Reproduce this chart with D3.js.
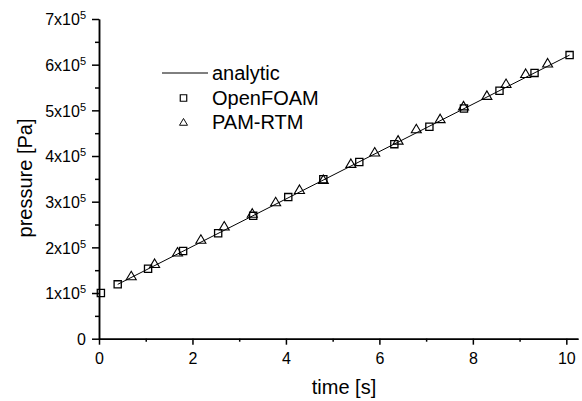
<html lang="en">
  <head>
    <meta charset="UTF-8" />
    <title>pressure vs time</title>
    <script src="https://d3js.org/d3.v7.min.js"></script>
  </head>
  <style>
    body {
      margin: 0;
      background: #fff;
    }
    svg {
      font-family: "Liberation Sans", Arial, sans-serif;
    }
    .axis path,
    .axis line {
      stroke: #000;
      stroke-width: 1.5px;
    }
  </style>
  <body>
    <svg width="582" height="401"></svg>
    <script>
      // values (pressure in Pa)
      var analyticT = [0.4, 10.07];
      var analyticP = [1.19e5, 6.21e5];

      var foamT = [0.04, 0.4, 1.05, 1.8, 2.55, 3.3, 4.05, 4.8, 5.57, 6.32, 7.07, 7.81, 8.57, 9.32, 10.07];
      var foamP = [1.0e5, 1.19e5, 1.53e5, 1.92e5, 2.31e5, 2.69e5, 3.1e5, 3.49e5, 3.87e5, 4.26e5, 4.64e5, 5.04e5, 5.43e5, 5.82e5, 6.21e5];

      var pamT = [0.69, 1.19, 1.68, 2.18, 2.68, 3.28, 3.78, 4.29, 4.8, 5.39, 5.9, 6.4, 6.79, 7.3, 7.8, 8.3, 8.71, 9.13, 9.6];
      var pamP = [1.38e5, 1.65e5, 1.9e5, 2.18e5, 2.47e5, 2.75e5, 3.0e5, 3.27e5, 3.49e5, 3.84e5, 4.09e5, 4.35e5, 4.6e5, 4.82e5, 5.1e5, 5.33e5, 5.59e5, 5.81e5, 6.04e5];

      var xTicks = [0, 2, 4, 6, 8, 10];
      var xMinor = [1, 3, 5, 7, 9];
      var yTicks = [0, 1e5, 2e5, 3e5, 4e5, 5e5, 6e5, 7e5];
      var yMinor = [0.5e5, 1.5e5, 2.5e5, 3.5e5, 4.5e5, 5.5e5, 6.5e5];

      var legendNames = ["analytic", "OpenFOAM", "PAM-RTM"];

      var svg = d3.select("svg");

      var x = d3.scaleLinear().domain([0, 10.25]).range([99, 578]);
      var y = d3.scaleLinear().domain([0, 7e5]).range([338.7, 19]);

      // minor ticks
      svg.append("g")
        .attr("class", "axis")
        .attr("transform", "translate(0," + y(0) + ")")
        .call(d3.axisBottom(x).tickValues(xMinor).tickSize(3).tickSizeOuter(0).tickFormat(""));
      svg.append("g")
        .attr("class", "axis")
        .attr("transform", "translate(" + x(0) + ",0)")
        .call(d3.axisLeft(y).tickValues(yMinor).tickSize(4).tickSizeOuter(0).tickFormat(""));

      // major ticks
      var xAxis = svg.append("g")
        .attr("class", "axis")
        .attr("transform", "translate(0," + y(0) + ")")
        .call(d3.axisBottom(x).tickValues(xTicks).tickSize(6).tickSizeOuter(0).tickPadding(8));
      xAxis.selectAll("text")
        .style("font-size", "16px")
        .style("font-family", "Liberation Sans, Arial, sans-serif")
        .attr("fill", "#000");

      var yAxis = svg.append("g")
        .attr("class", "axis")
        .attr("transform", "translate(" + x(0) + ",0)")
        .call(d3.axisLeft(y).tickValues(yTicks).tickSize(7).tickSizeOuter(0).tickPadding(6).tickFormat(""));

      yAxis.selectAll(".tick").each(function (d) {
        var t = d3.select(this).select("text")
          .style("font-size", "16px")
          .style("font-family", "Liberation Sans, Arial, sans-serif")
          .attr("fill", "#000")
          .attr("x", -13)
          .attr("dy", "0.36em");
        if (d === 0) {
          t.text("0");
        } else {
          t.append("tspan").text(Math.round(d / 1e5) + "x10");
          t.append("tspan").attr("dy", "-0.55em").style("font-size", "11px").text("5");
        }
      });

      // axis titles
      svg.append("text")
        .attr("x", 344)
        .attr("y", 394)
        .attr("text-anchor", "middle")
        .style("font-size", "20px")
        .text("time [s]");
      svg.append("text")
        .attr("transform", "translate(32," + 178 + ") rotate(-90)")
        .attr("text-anchor", "middle")
        .style("font-size", "20px")
        .text("pressure [Pa]");

      // analytic line
      var line = d3.line()
        .x(function (d) { return x(d[0]); })
        .y(function (d) { return y(d[1]); });
      svg.append("path")
        .datum(d3.zip(analyticT, analyticP))
        .attr("d", line)
        .attr("fill", "none")
        .attr("stroke", "#000")
        .attr("stroke-width", 1);

      var squarePath = "M-3.6,-3.6H3.6V3.6H-3.6Z";
      var triPath = "M0,-4.4L5,4.1L-5,4.1Z";

      svg.append("g").selectAll("path")
        .data(d3.zip(foamT, foamP))
        .enter()
        .append("path")
        .attr("transform", function (d) { return "translate(" + x(d[0]) + "," + y(d[1]) + ")"; })
        .attr("d", squarePath)
        .attr("fill", "none")
        .attr("stroke", "#000")
        .attr("stroke-width", 1.3);

      svg.append("g").selectAll("path")
        .data(d3.zip(pamT, pamP))
        .enter()
        .append("path")
        .attr("transform", function (d) { return "translate(" + x(d[0]) + "," + y(d[1]) + ")"; })
        .attr("d", triPath)
        .attr("fill", "none")
        .attr("stroke", "#000")
        .attr("stroke-width", 1.1);

      // legend
      var legend = svg.append("g");
      var rows = [73, 98, 122];
      legend.append("line")
        .attr("x1", 162).attr("x2", 208)
        .attr("y1", rows[0]).attr("y2", rows[0])
        .attr("stroke", "#000").attr("stroke-width", 1);
      legend.append("path")
        .attr("transform", "translate(183.5," + rows[1] + ") scale(0.9)")
        .attr("d", squarePath)
        .attr("fill", "none").attr("stroke", "#000").attr("stroke-width", 1.3);
      legend.append("path")
        .attr("transform", "translate(183.5," + rows[2] + ") scale(0.8)")
        .attr("d", triPath)
        .attr("fill", "none").attr("stroke", "#000").attr("stroke-width", 1.2);
      legend.selectAll("text")
        .data(legendNames)
        .enter()
        .append("text")
        .attr("x", 212)
        .attr("y", function (d, i) { return rows[i]; })
        .attr("dy", "0.36em")
        .style("font-size", "20px")
        .text(function (d) { return d; });
    </script>
  </body>
</html>
